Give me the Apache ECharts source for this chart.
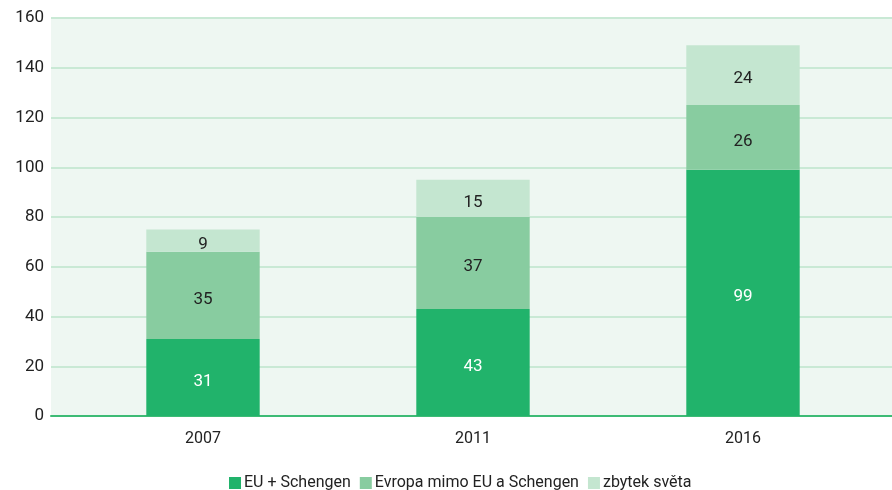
<!DOCTYPE html>
<html><head><meta charset="utf-8">
<script src="https://cdn.jsdelivr.net/npm/echarts@6/dist/echarts.min.js"></script>
<style>html,body{margin:0;padding:0;background:#fff}#c{width:892px;height:490px}</style>
</head><body><div id="c"></div>
<script>
const categories = ['2007', '2011', '2016'];
const euSchengen = [31, 43, 99];
const evropaMimo = [35, 37, 26];
const zbytekSveta = [9, 15, 24];
const yTicks = [0, 20, 40, 60, 80, 100, 120, 140, 160];

const FONT = "'Roboto', sans-serif";
const chart = echarts.init(document.getElementById('c'));
const lbl = (color) => ({show: true, position: 'inside', offset: [0, 4], color: color, fontFamily: FONT, fontSize: 17});
chart.setOption({
  animation: false,
  legend: {
    left: 224, top: 470, itemWidth: 12, itemHeight: 12, itemGap: 9,
    icon: 'rect',
    textStyle: {fontFamily: FONT, fontSize: 16, color: '#222', padding: [0, 0, 0, -2]},
    data: ['EU + Schengen', 'Evropa mimo EU a Schengen', 'zbytek světa']
  },
  grid: [
    {left: 51, right: 0, top: 18, bottom: 74, show: true, backgroundColor: '#eef7f2', borderWidth: 0},
    {left: 68, right: 14, top: 18, bottom: 74}
  ],
  xAxis: [
    {gridIndex: 0, type: 'value', min: 0, max: 1, position: 'bottom',
     axisLine: {show: true, onZero: false, lineStyle: {color: '#3dbb75', width: 2}},
     axisTick: {show: false}, axisLabel: {show: false}, splitLine: {show: false}},
    {gridIndex: 1, type: 'category', data: categories,
     axisLine: {show: false},
     axisTick: {show: false},
     axisLabel: {fontFamily: FONT, fontSize: 16, color: '#222', margin: 15}}
  ],
  yAxis: [
    {gridIndex: 0, type: 'value', min: 0, max: 160, interval: 20,
     axisLine: {show: false}, axisTick: {show: false},
     axisLabel: {fontFamily: FONT, fontSize: 17, color: '#222', margin: 7,
       formatter: v => yTicks.includes(v) ? String(v) : ''},
     splitLine: {lineStyle: {color: '#c9e9d5', width: 2}}},
    {gridIndex: 1, type: 'value', min: 0, max: 160, interval: 20, show: false, splitLine: {show: false}}
  ],
  series: [
    {name: 'EU + Schengen', type: 'bar', stack: 's', xAxisIndex: 1, yAxisIndex: 1, data: euSchengen,
     barWidth: '42%', itemStyle: {color: '#21b36b'}, label: lbl('#fff')},
    {name: 'Evropa mimo EU a Schengen', type: 'bar', stack: 's', xAxisIndex: 1, yAxisIndex: 1, data: evropaMimo,
     barWidth: '42%', itemStyle: {color: '#88cca0'}, label: lbl('#222')},
    {name: 'zbytek světa', type: 'bar', stack: 's', xAxisIndex: 1, yAxisIndex: 1, data: zbytekSveta,
     barWidth: '42%', itemStyle: {color: '#c4e6d0'}, label: lbl('#222')}
  ]
});
</script></body></html>
